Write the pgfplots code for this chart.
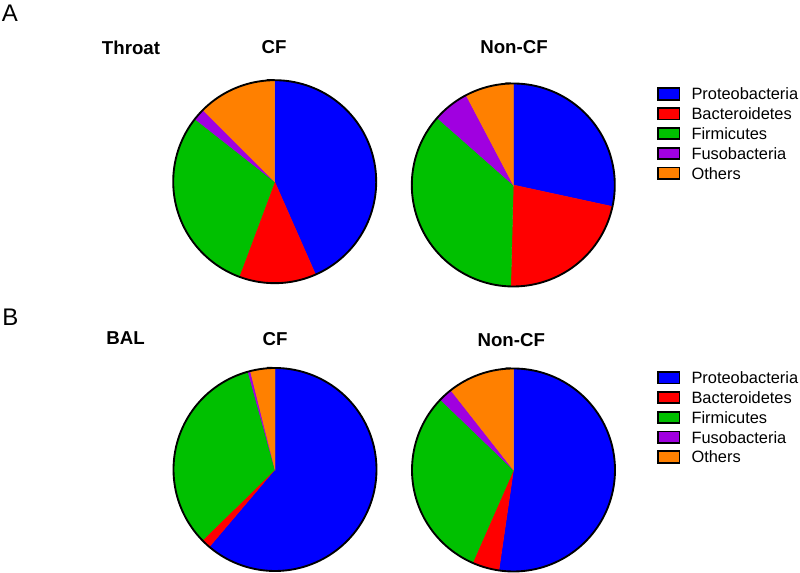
\documentclass[border=0pt]{standalone}
\usepackage{pgfplots}
\pgfplotsset{compat=1.18}
\usepackage{fontspec}
\setmainfont{Liberation Sans}
\definecolor{pblue}{RGB}{0,0,255}
\definecolor{pred}{RGB}{255,0,0}
\definecolor{pgreen}{RGB}{0,192,0}
\definecolor{ppurple}{RGB}{160,0,224}
\definecolor{porange}{RGB}{255,128,0}
\pgfplotsset{
  legend image code/.code={\draw[#1,draw=black,line width=1.3pt] (0pt,-4.3pt) rectangle (16.3pt,4.3pt);},
  pieaxis/.style={width=600pt,height=429.75pt,scale only axis,
    xmin=0,xmax=800,ymin=0,ymax=573,hide axis,clip=false,
    legend cell align=left,
    legend style={draw=none,fill=none,anchor=north west,inner sep=0pt,outer sep=0pt,
      font=\fontsize{12.3}{14.85}\selectfont,row sep=0pt,column sep=8.3pt,
      nodes={inner sep=0pt,text height=11.83pt,text depth=3.02pt}}},
}
% slice: [extra options]{colour}{centre x}{centre y}{from:to (percent, cumulative)}
\newcommand{\slice}[5][]{%
  \addplot[fill=#2,draw=#2,line width=0.3pt,domain=#5,samples=60,variable=\t,#1]
    ({#3+101.5*sin(3.6*\t)},{#4+101.5*cos(3.6*\t)}) -- (axis cs:#3,#4) -- cycle;}
\newcommand{\rim}[2]{%
  \addplot[draw=black,line width=1.4pt,domain=0:100,samples=160,variable=\t,forget plot]
    ({#1+101.5*sin(3.6*\t)},{#2+101.5*cos(3.6*\t)}) -- cycle;}
\begin{document}
\begin{tikzpicture}
\useasboundingbox (0,0) rectangle (600pt,429.75pt);
% ---------- A: Throat ----------
\begin{axis}[pieaxis,legend style={at={(0.82125,0.8532)}}]
% Throat CF: 43.4 12.3 29.9 1.9 12.5
\slice{pblue}{274.7}{391.3}{0:43.4}
\slice{pred}{274.7}{391.3}{43.4:55.7}
\slice{pgreen}{274.7}{391.3}{55.7:85.6}
\slice{ppurple}{274.7}{391.3}{85.6:87.5}
\slice{porange}{274.7}{391.3}{87.5:100}
\legend{Proteobacteria,Bacteroidetes,Firmicutes,Fusobacteria,Others}
\rim{274.7}{391.3}
% Throat Non-CF: 28.4 22.0 36.1 5.8 7.7
\slice[forget plot]{pblue}{513.3}{388}{0:28.4}
\slice[forget plot]{pred}{513.3}{388}{28.4:50.4}
\slice[forget plot]{pgreen}{513.3}{388}{50.4:86.5}
\slice[forget plot]{ppurple}{513.3}{388}{86.5:92.3}
\slice[forget plot]{porange}{513.3}{388}{92.3:100}
\rim{513.3}{388}
\node[font=\fontsize{18}{20}\selectfont,inner sep=0pt] at (axis cs:10,560.2) {A};
\node[font=\bfseries\fontsize{14}{16}\selectfont,inner sep=0pt] at (axis cs:131,525.5) {Throat};
\node[font=\bfseries\fontsize{14}{16}\selectfont,inner sep=0pt] at (axis cs:274,525.5) {CF};
\node[font=\bfseries\fontsize{14}{16}\selectfont,inner sep=0pt] at (axis cs:514,526) {Non-CF};
\end{axis}
% ---------- B: BAL ----------
\begin{axis}[pieaxis,legend style={at={(0.82125,0.3579)}}]
% BAL CF: 61.2 1.5 33.0 0.4 3.9
\slice{pblue}{275}{103.5}{0:61.2}
\slice{pred}{275}{103.5}{61.2:62.7}
\slice{pgreen}{275}{103.5}{62.7:95.7}
\slice{ppurple}{275}{103.5}{95.7:96.1}
\slice{porange}{275}{103.5}{96.1:100}
\legend{Proteobacteria,Bacteroidetes,Firmicutes,Fusobacteria,Others}
\rim{275}{103.5}
% BAL Non-CF: 52.3 4.3 30.6 2.2 10.6
\slice[forget plot]{pblue}{513.5}{103}{0:52.3}
\slice[forget plot]{pred}{513.5}{103}{52.3:56.6}
\slice[forget plot]{pgreen}{513.5}{103}{56.6:87.2}
\slice[forget plot]{ppurple}{513.5}{103}{87.2:89.4}
\slice[forget plot]{porange}{513.5}{103}{89.4:100}
\rim{513.5}{103}
\node[font=\fontsize{18}{20}\selectfont,inner sep=0pt] at (axis cs:10.5,255.5) {B};
\node[font=\bfseries\fontsize{14}{16}\selectfont,inner sep=0pt] at (axis cs:125.5,235) {BAL};
\node[font=\bfseries\fontsize{14}{16}\selectfont,inner sep=0pt] at (axis cs:275,234) {CF};
\node[font=\bfseries\fontsize{14}{16}\selectfont,inner sep=0pt] at (axis cs:511.3,233) {Non-CF};
\end{axis}
\end{tikzpicture}
\end{document}
